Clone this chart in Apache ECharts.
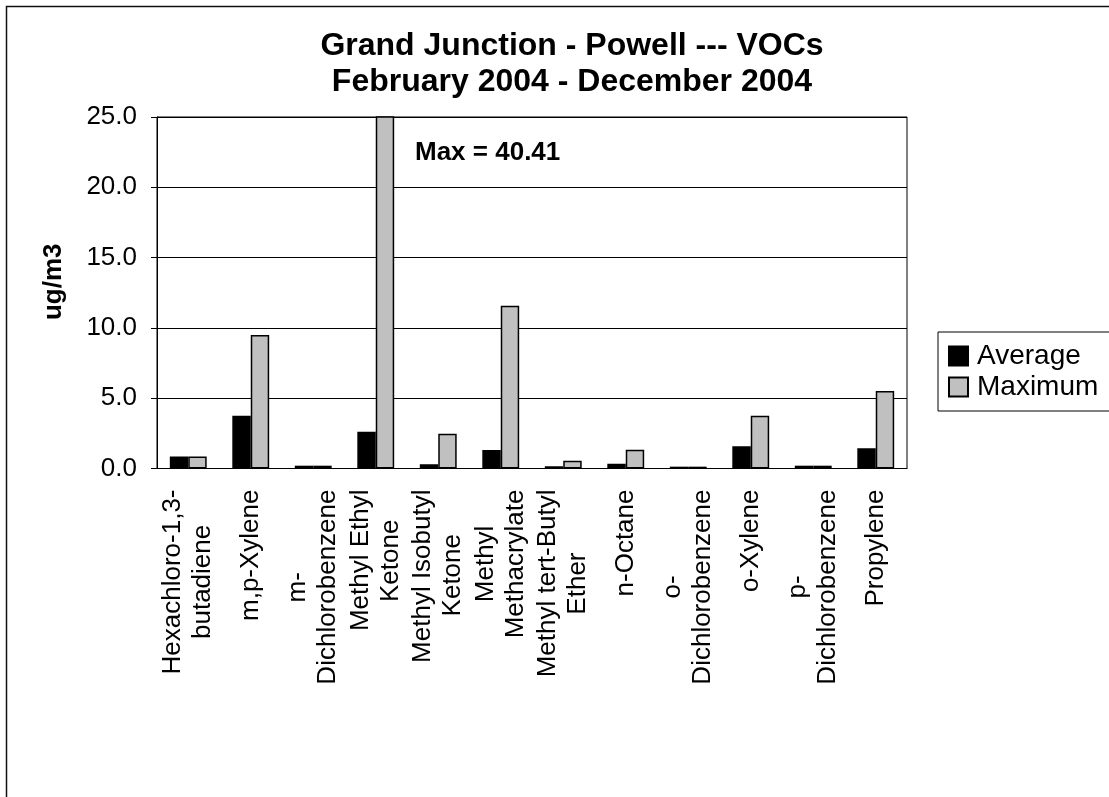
<!DOCTYPE html>
<html>
<head>
<meta charset="utf-8">
<title>Grand Junction - Powell --- VOCs</title>
<script src="https://cdn.jsdelivr.net/npm/echarts@6/dist/echarts.min.js"></script>
<style>
  html, body { margin: 0; padding: 0; background: #fff; }
  #chart { width: 1109px; height: 797px; }
</style>
</head>
<body>
<div id="chart"></div>
<script>
// Compounds measured (line breaks as wrapped under the axis)
const categories = [
  'Hexachloro-1,3-\nbutadiene',
  'm,p-Xylene',
  'm-\nDichlorobenzene',
  'Methyl Ethyl\nKetone',
  'Methyl Isobutyl\nKetone',
  'Methyl\nMethacrylate',
  'Methyl tert-Butyl\nEther',
  'n-Octane',
  'o-\nDichlorobenzene',
  'o-Xylene',
  'p-\nDichlorobenzene',
  'Propylene'
];

// Concentrations in ug/m3
const averageValues = [0.85, 3.76, 0.20, 2.62, 0.30, 1.32, 0.16, 0.34, 0.13, 1.58, 0.20, 1.44];
const maximumValues = [0.85, 9.50, 0.20, 40.41, 2.48, 11.57, 0.56, 1.34, 0.13, 3.76, 0.20, 5.52];

// Value axis range and step
const yMin = 0;
const yMax = 25;
const yStep = 5;

const FONT = 'Liberation Sans, Arial, Helvetica, sans-serif';
const CAT_FONT_SIZE = 26;

// Highest maximum, called out since it runs off the top of the axis
const peakIndex = maximumValues.indexOf(Math.max.apply(null, maximumValues));
const peakText = 'Max = ' + maximumValues[peakIndex].toFixed(2);

// Category labels are end-aligned under the rotated axis; to centre each
// wrapped line inside its label block, shorter lines get trailing
// non-breaking / thin spaces worth half the width difference.
const measureCtx = document.createElement('canvas').getContext('2d');
measureCtx.font = CAT_FONT_SIZE + 'px ' + FONT;
function textWidth(s) { return measureCtx.measureText(s).width; }
const NBSP = '\u00a0';
const THIN = '\u2009';
function trailingPad(target) {
  let best = '';
  let bestErr = target;
  const nW = textWidth(NBSP) || 1;
  const maxN = Math.ceil(target / nW) + 1;
  for (let n = 0; n <= maxN; n++) {
    for (let k = 0; k <= 4; k++) {
      const s = NBSP.repeat(n) + THIN.repeat(k);
      const err = Math.abs(textWidth(s) - target);
      if (err < bestErr) { bestErr = err; best = s; }
    }
  }
  return best;
}
const axisCategories = categories.map(function (cat) {
  const lines = cat.split('\n');
  const widths = lines.map(textWidth);
  const full = Math.max.apply(null, widths);
  return lines.map(function (s, j) {
    return s + trailingPad((full - widths[j]) / 2);
  }).join('\n');
});

const chart = echarts.init(document.getElementById('chart'), null, { renderer: 'canvas' });

chart.setOption({
  backgroundColor: '#ffffff',
  animation: false,
  title: {
    text: 'Grand Junction - Powell --- VOCs\nFebruary 2004 - December 2004',
    left: 567,
    top: 23,
    textAlign: 'center',
    textStyle: {
      fontFamily: FONT,
      fontSize: 32,
      fontWeight: 'bold',
      color: '#000',
      lineHeight: 36
    }
  },
  legend: {
    orient: 'vertical',
    left: 938,
    top: 332,
    padding: [10, 12, 10, 10],
    itemGap: 3,
    itemWidth: 19,
    itemHeight: 19,
    icon: 'rect',
    borderColor: '#000',
    borderWidth: 1,
    textStyle: {
      fontFamily: FONT,
      fontSize: 28,
      color: '#000',
      padding: [0, 0, 0, 4]
    },
    data: ['Average', 'Maximum']
  },
  grid: {
    left: 157,
    right: 202,
    top: 117,
    bottom: 328.5,
    show: true,
    borderColor: '#000',
    borderWidth: 1,
    backgroundColor: 'transparent'
  },
  xAxis: {
    type: 'category',
    data: axisCategories,
    axisLine: { lineStyle: { color: '#000', width: 1 } },
    axisTick: { alignWithLabel: false, length: 8, lineStyle: { color: '#000', width: 1 } },
    axisLabel: {
      rotate: 90,
      interval: 0,
      margin: 21,
      color: '#000',
      fontFamily: FONT,
      fontSize: CAT_FONT_SIZE,
      lineHeight: 30
    }
  },
  yAxis: {
    type: 'value',
    min: yMin,
    max: yMax,
    interval: yStep,
    name: 'ug/m3',
    nameLocation: 'middle',
    nameGap: 90,
    nameMoveOverlap: false,
    nameTextStyle: {
      fontFamily: FONT,
      fontSize: 26,
      fontWeight: 'bold',
      color: '#000',
      padding: [0, 0, 0, 22]
    },
    axisLine: { show: true, lineStyle: { color: '#000', width: 1 } },
    axisTick: { show: true, length: 6, lineStyle: { color: '#000', width: 1 } },
    axisLabel: {
      margin: 20,
      color: '#000',
      fontFamily: FONT,
      fontSize: 26,
      formatter: function (v) { return v.toFixed(1); }
    },
    splitLine: { show: true, lineStyle: { color: '#000', width: 1 } }
  },
  series: [
    {
      name: 'Average',
      type: 'bar',
      data: averageValues,
      barGap: '0%',
      barCategoryGap: '41%',
      itemStyle: { color: '#000000', borderColor: '#000', borderWidth: 1.5 }
    },
    {
      name: 'Maximum',
      type: 'bar',
      data: maximumValues,
      barGap: '0%',
      barCategoryGap: '41%',
      clip: true,
      itemStyle: { color: '#c0c0c0', borderColor: '#000', borderWidth: 1.5 }
    }
  ],
  graphic: [
    {
      type: 'rect',
      left: 4,
      top: 4,
      shape: { x: 0, y: 0, width: 1200, height: 900 },
      style: { fill: 'none', stroke: '#111', lineWidth: 1.5 },
      silent: true,
      z: -1
    },
    {
      type: 'text',
      left: 415,
      top: 140,
      style: {
        text: peakText,
        fontFamily: FONT,
        fontSize: 26,
        fontWeight: 'bold',
        fill: '#000'
      }
    }
  ]
});
</script>
</body>
</html>
